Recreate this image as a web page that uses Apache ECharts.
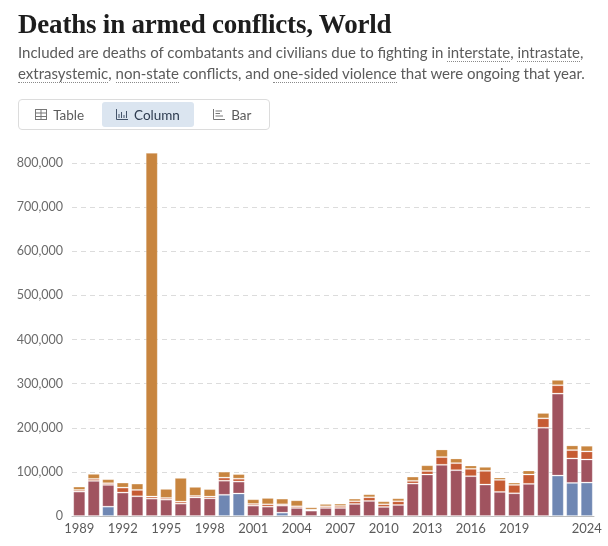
<!DOCTYPE html>
<html>
<head>
<meta charset="utf-8">
<script src="https://cdn.jsdelivr.net/npm/echarts@6/dist/echarts.min.js"></script>
<style>
  html, body { margin: 0; padding: 0; background: #fff; }
  body { width: 608px; height: 546px; position: relative; overflow: hidden; font-family: Lato, "Noto Sans", sans-serif; }
  #chart { position: absolute; left: 0; top: 0; width: 608px; height: 546px; }
  #header { position: absolute; left: 18px; top: 8px; width: 590px; z-index: 2; }
  h1 { margin: 0; font-family: "Liberation Serif", "DejaVu Serif", serif; font-weight: bold; font-size: 27px; color: #1d1d1d; letter-spacing: -0.2px; line-height: 32px; }
  p.sub { margin: 2px 0 0 0; font-size: 15px; line-height: 21px; color: #5b5b5b; }
  p.sub span { border-bottom: 1px dotted #8a8a8a; }
  #tabs { position: absolute; left: 18px; top: 99px; height: 31px; width: 252px; border: 1px solid #dcdcdc; border-radius: 4px; display: flex; z-index: 2; box-sizing: border-box; }
  .tab { display: flex; align-items: center; justify-content: center; font-size: 13.5px; color: #5b5b5b; gap: 6px; margin: 2px; border-radius: 3px; }
  .tab.sel { background: #dbe5f0; color: #2d3b4f; }
  .tab svg { display: block; }
</style>
</head>
<body>
<div id="chart"></div>
<div id="header">
  <h1>Deaths in armed conflicts, World</h1>
  <p class="sub">Included are deaths of combatants and civilians due to fighting in <span>interstate</span>, <span>intrastate</span>, <span>extrasystemic</span>, <span>non-state</span> conflicts, and <span>one-sided violence</span> that were ongoing that year.</p>
</div>
<div id="tabs">
  <div class="tab" style="width:78px;">
    <svg width="12" height="11" viewBox="0 0 12 11"><rect x="0.5" y="0.5" width="11" height="10" fill="none" stroke="#777" stroke-width="1"/><line x1="0.5" y1="4" x2="11.5" y2="4" stroke="#777"/><line x1="0.5" y1="7.5" x2="11.5" y2="7.5" stroke="#777"/><line x1="6" y1="0.5" x2="6" y2="10.5" stroke="#777"/></svg>
    <span>Table</span></div>
  <div class="tab sel" style="width:92px;">
    <svg width="12" height="11" viewBox="0 0 12 11"><polyline points="0.5,0 0.5,10.5 12,10.5" fill="none" stroke="#44546a"/><line x1="3" y1="9" x2="3" y2="5" stroke="#44546a"/><line x1="5.5" y1="9" x2="5.5" y2="3" stroke="#44546a"/><line x1="8" y1="9" x2="8" y2="6" stroke="#44546a"/><line x1="10.5" y1="9" x2="10.5" y2="2" stroke="#44546a"/></svg>
    <span>Column</span></div>
  <div class="tab" style="width:70px;">
    <svg width="12" height="11" viewBox="0 0 12 11"><polyline points="0.5,0 0.5,10.5 12,10.5" fill="none" stroke="#777"/><line x1="2.5" y1="2" x2="9" y2="2" stroke="#777"/><line x1="2.5" y1="4.5" x2="7" y2="4.5" stroke="#777"/><line x1="2.5" y1="7" x2="10" y2="7" stroke="#777"/></svg>
    <span>Bar</span></div>
</div>
<script>
const years = ["1989","1990","1991","1992","1993","1994","1995","1996","1997","1998","1999","2000","2001","2002","2003","2004","2005","2006","2007","2008","2009","2010","2011","2012","2013","2014","2015","2016","2017","2018","2019","2020","2021","2022","2023","2024"];
const interstate = [0,0,21200,0,0,0,0,0,0,0,48000,51000,0,0,7600,0,0,0,0,0,0,0,0,0,0,0,0,0,0,0,0,0,0,91700,75000,75800];
const intrastate = [55300,79600,49300,53100,44700,39400,37100,28000,42000,40000,32000,27000,23500,21200,15900,18200,12100,18200,18200,27300,34100,20500,25000,73500,94000,116000,103800,90200,71300,54600,51500,72800,200000,185700,55400,52300];
const nonState = [3800,4500,3800,11300,14400,4600,3800,4600,3500,4000,7000,6500,3800,5300,3000,3800,2300,3800,4500,6100,8300,6000,8400,6100,8000,17500,16000,16700,31000,27300,19000,21200,21300,19000,18900,18200];
const oneSided = [7600,11400,9100,11400,14400,779000,20500,53800,20500,17000,13500,10500,10700,14400,12900,13600,5300,5300,5300,6000,6900,6900,6800,9800,13000,17300,10600,7600,9100,5300,5300,9100,12200,12100,10700,12900];
const yTicks = [0,100000,200000,300000,400000,500000,600000,700000,800000];

const shownYear = (y) => { const n = +y; return (n === 2024) || ((n - 1989) % 3 === 0 && n !== 2022); };

const chart = echarts.init(document.getElementById('chart'), null, { renderer: 'canvas' });
const mk = (name, data, color) => ({
  name, type: 'bar', stack: 'total', data, clip: false,
  barCategoryGap: '17%',
  itemStyle: { color, borderColor: 'rgba(255,255,255,0.22)', borderWidth: 1 },
  emphasis: { disabled: true }
});
chart.setOption({
  animation: false,
  grid: { left: 72, right: 14, top: 163, bottom: 30, containLabel: false },
  xAxis: {
    type: 'category', data: years,
    axisLine: { lineStyle: { color: '#bbb', width: 1 } },
    axisTick: { alignWithLabel: true, interval: (i, v) => shownYear(v), length: 5, lineStyle: { color: '#999' } },
    axisLabel: { interval: (i, v) => shownYear(v), color: '#5b5b5b', fontSize: 13, fontFamily: 'Lato', margin: 6 }
  },
  yAxis: {
    type: 'value', min: yTicks[0], max: yTicks[yTicks.length - 1], interval: 100000,
    axisLine: { show: false }, axisTick: { show: false },
    splitLine: { lineStyle: { color: '#dcdcdc', type: [5, 4] } },
    axisLabel: { color: '#6b6b6b', fontSize: 12.5, fontFamily: 'Lato', margin: 9,
      formatter: (v) => v.toLocaleString('en-US') }
  },
  series: [
    mk('Interstate', interstate, '#6f87b3'),
    mk('Intrastate', intrastate, '#a0535f'),
    mk('Non-state', nonState, '#c65b33'),
    mk('One-sided violence', oneSided, '#c8853f')
  ]
});
</script>
</body>
</html>
